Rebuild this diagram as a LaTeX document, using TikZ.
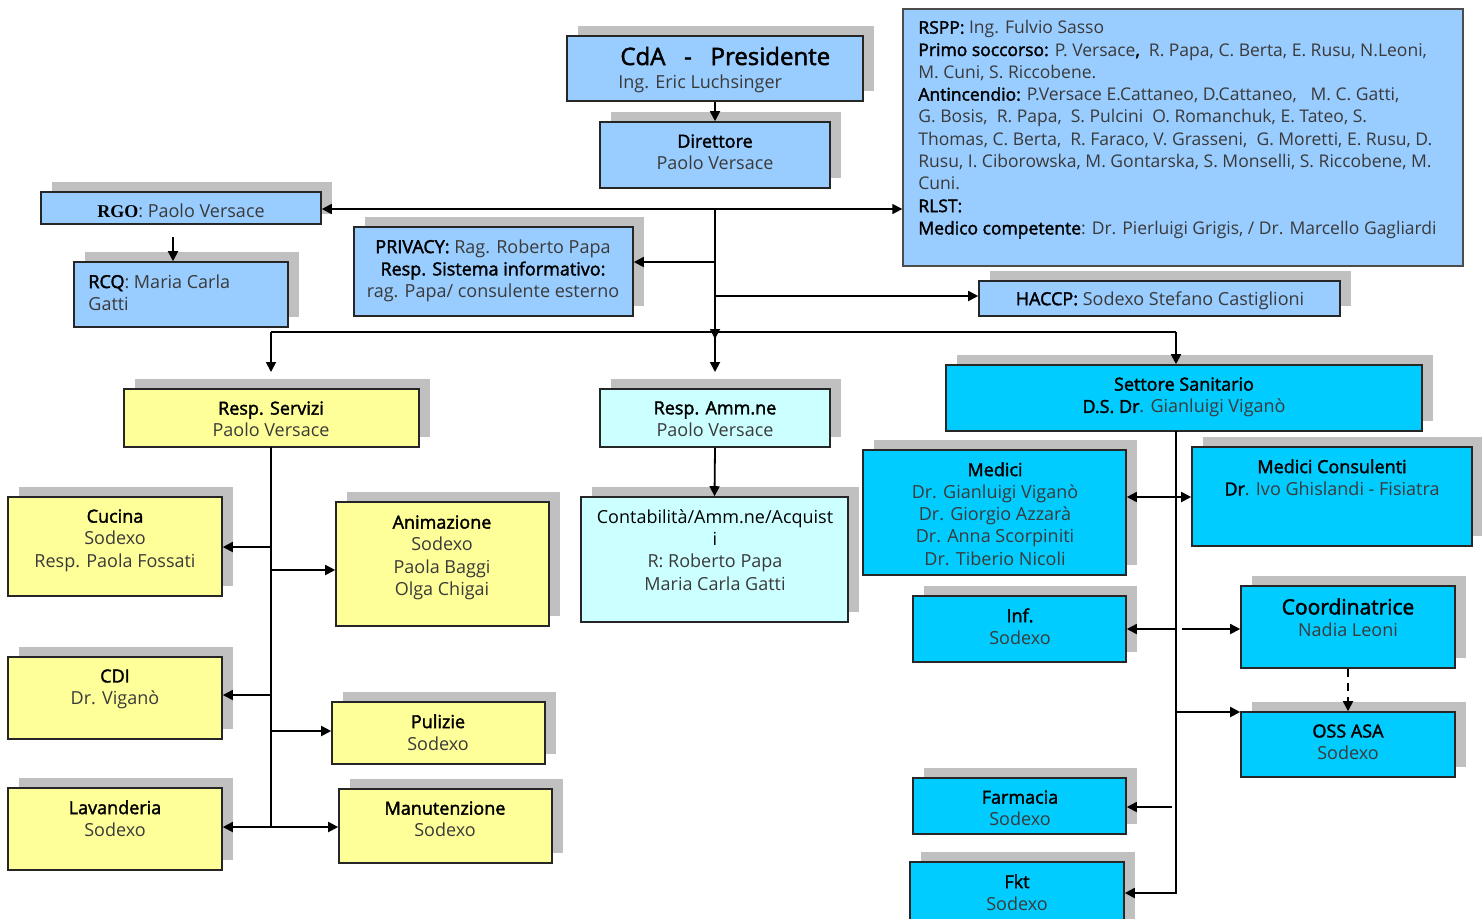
\documentclass[tikz,border=0pt]{standalone}
\usepackage{fontspec}
\setmainfont{Open Sans}
\newfontfamily\semi[FakeBold=2]{Open Sans}
\newfontfamily\tnr{Liberation Serif}
\usetikzlibrary{shadows,arrows.meta}
\definecolor{lblue}{HTML}{99CCFF}
\definecolor{cyanb}{HTML}{00CCFF}
\definecolor{yel}{HTML}{FFFF99}
\definecolor{lcyan}{HTML}{CCFFFF}
\definecolor{shadowgray}{HTML}{C0C0C0}
\definecolor{namegray}{HTML}{3A3A3A}
\newcommand\tl[1]{{\semi\color{black}#1}}
\tikzset{
  boxst/.style={draw=black!85, line width=0.8pt, inner sep=0pt,
    drop shadow={shadow xshift=5.5pt, shadow yshift=5pt, fill=shadowgray, opacity=1}},
  bigst/.style={draw=black!70, line width=0.7pt, inner sep=0pt},
  txt/.style={anchor=north, align=center, inner sep=0pt, text=namegray,
    font=\fontsize{9}{11.15}\selectfont},
  arr/.style={line width=0.9pt, -{Triangle[length=5pt,width=5pt]}},
  ln/.style={line width=0.9pt},
}
\newcommand\mkbox[6]{\node[boxst, fill=#6, minimum width={(#4-#2)*0.5pt}, minimum height={(#5-#3)*0.5pt}] (#1) at ({(#2+#4)/2},{(#3+#5)/2}) {};}
\begin{document}
\begin{tikzpicture}[x=0.5pt,y=-0.5pt]
\useasboundingbox (0,0) rectangle (1482,918);
\clip (0,0) rectangle (1482,918);
% boxes
\mkbox{cda}{567}{36}{863}{101}{lblue}
\mkbox{dir}{600}{122}{830}{188}{lblue}
\node[bigst, fill=lblue, minimum width={560*0.5pt}, minimum height={257*0.5pt}] (big) at (1183,137.5) {};
\mkbox{haccp}{979}{281}{1340}{316}{lblue}
\mkbox{rgo}{41}{192}{321}{224}{lblue}
\mkbox{rcq}{74}{262}{288}{327}{lblue}
\mkbox{priv}{354}{227}{633}{316}{lblue}
\mkbox{serv}{124}{389}{419}{447}{yel}
\mkbox{amm}{600}{389}{830}{447}{lcyan}
\mkbox{sett}{946}{365}{1422}{431}{cyanb}
\mkbox{cuc}{8}{497}{222}{596}{yel}
\mkbox{anim}{336}{502}{549}{626}{yel}
\mkbox{cdi}{8}{657}{222}{739}{yel}
\mkbox{pul}{332}{702}{545}{764}{yel}
\mkbox{lav}{8}{788}{222}{870}{yel}
\mkbox{man}{339}{789}{552}{863}{yel}
\mkbox{cont}{581}{497}{848}{622}{lcyan}
\mkbox{med}{863}{450}{1126}{575}{cyanb}
\mkbox{mc}{1192}{447}{1472}{546}{cyanb}
\mkbox{inf}{913}{596}{1126}{662}{cyanb}
\mkbox{coord}{1241}{586}{1455}{668}{cyanb}
\mkbox{oss}{1241}{712}{1455}{777}{cyanb}
\mkbox{farm}{913}{778}{1126}{834}{cyanb}
\mkbox{fkt}{910}{862}{1124}{935}{cyanb}
% texts
\node[anchor=base west, inner sep=0pt, font=\fontsize{12}{14}\selectfont] (cdaT1) at (620,65) {\semi CdA\ \ \ -\ \ \ Presidente};
\node[anchor=base west, inner sep=0pt, text=namegray, font=\fontsize{9}{11.15}\selectfont] (cdaT2) at (618,88) {Ing. Eric Luchsinger};
\node[txt] (dirT) at (715,134) {\tl{Direttore}\\Paolo Versace};
\node[txt, anchor=north west, align=left, font=\fontsize{8.75}{11.15}\selectfont] (bigT) at (918,20) {\tl{RSPP:} Ing. Fulvio Sasso\\
\tl{Primo soccorso:} P. Versace\tl{,}\ \ R. Papa, C. Berta, E. Rusu, N.Leoni,\\
M. Cuni, S. Riccobene.\\
\tl{Antincendio:} P.Versace E.Cattaneo, D.Cattaneo,\ \ \ M. C. Gatti,\\
G. Bosis,\ \ R. Papa,\ \ S. Pulcini\ \ O. Romanchuk, E. Tateo, S.\\
Thomas, C. Berta,\ \ R. Faraco, V. Grasseni,\ \ G. Moretti, E. Rusu, D.\\
Rusu, I. Ciborowska, M. Gontarska, S. Monselli, S. Riccobene, M.\\
Cuni.\\
\tl{RLST:}\\
\tl{Medico competente}: Dr. Pierluigi Grigis, / Dr. Marcello Gagliardi};
\node[txt] (rgoT) at (181,203) {{\tnr\bfseries\color{black}RGO}: Paolo Versace};
\node[txt, anchor=north west, align=left] (rcqT) at (88,274) {\tl{RCQ}: Maria Carla\\Gatti};
\node[txt] (privT) at (493,239) {\tl{PRIVACY:} Rag. Roberto Papa\\\tl{Resp. Sistema informativo:}\\rag. Papa/ consulente esterno};
\node[txt] (haccpT) at (1160,291) {\tl{HACCP:} Sodexo Stefano Castiglioni};
\node[txt] (servT) at (271,401) {\tl{Resp. Servizi}\\Paolo Versace};
\node[txt] (ammT) at (715,401) {\tl{Resp. Amm.ne}\\Paolo Versace};
\node[txt] (settT) at (1184,377) {\tl{Settore Sanitario}\\\tl{D.S. Dr}. Gianluigi Viganò};
\node[txt] (cucT) at (115,509) {\tl{Cucina}\\Sodexo\\Resp. Paola Fossati};
\node[txt] (animT) at (442,515) {\tl{Animazione}\\Sodexo\\Paola Baggi\\Olga Chigai};
\node[txt] (cdiT) at (115,669) {\tl{CDI}\\Dr. Viganò};
\node[txt] (pulT) at (438,714) {\tl{Pulizie}\\Sodexo};
\node[txt] (lavT) at (115,800) {\tl{Lavanderia}\\Sodexo};
\node[txt] (manT) at (445,801) {\tl{Manutenzione}\\Sodexo};
\node[txt] (contT) at (715,509) {{\color{black}Contabilità/Amm.ne/Acquist}\\{\color{black}i}\\R: Roberto Papa\\Maria Carla Gatti};
\node[txt] (medT) at (995,462) {\tl{Medici}\\Dr. Gianluigi Viganò\\Dr. Giorgio Azzarà\\Dr. Anna Scorpiniti\\Dr. Tiberio Nicoli};
\node[txt] (mcT) at (1332,459) {\tl{Medici Consulenti}\\\tl{Dr}. Ivo Ghislandi - Fisiatra};
\node[txt] (infT) at (1020,608) {\tl{Inf.}\\Sodexo};
\node[txt] (coordT) at (1348,598) {{\fontsize{10.5}{11.15}\selectfont\tl{Coordinatrice}}\\Nadia Leoni};
\node[txt] (ossT) at (1348,724) {\tl{OSS ASA}\\Sodexo};
\node[txt] (farmT) at (1020,790) {\tl{Farmacia}\\Sodexo};
\node[txt] (fktT) at (1017,874) {\tl{Fkt}\\Sodexo};
% connectors top
\draw[arr] (cda.south) -- (dir.north);
\coordinate (jTop) at (715,209);
\draw[arr] (jTop) -- (rgo.east |- jTop);
\draw[arr] (jTop) -- (big.west |- jTop);
\coordinate (jPriv) at (715,262);
\draw[arr] (jPriv) -- (priv.east |- jPriv);
\coordinate (jHac) at (715,296);
\draw[arr] (jHac) -- (haccp.west |- jHac);
\coordinate (jBarTip) at (715,339);
\draw[arr] (jTop) -- (jBarTip);
\coordinate (jBar) at (715,332);
\coordinate (ammTip) at (715,372);
\draw[arr] (jBar) -- (ammTip);
\coordinate (barL) at (271,332);
\coordinate (barR) at (1176,332);
\draw[ln] (barL) -- (barR);
\coordinate (servTip) at (271,372);
\draw[arr] (barL) -- (servTip);
\draw[arr] (barR) -- (sett.north -| barR);
\coordinate (rgoFrom) at (173,237);
\draw[arr] (rgoFrom) -- (rcq.north -| rgoFrom);
% services
\coordinate (sTop) at (271,447);
\coordinate (sBot) at (271,827);
\draw[ln] (sTop) -- (sBot);
\coordinate (s1) at (271,547);
\draw[arr] (s1) -- (cuc.east |- s1);
\coordinate (s2) at (271,570);
\draw[arr] (s2) -- (anim.west |- s2);
\coordinate (s3) at (271,695);
\draw[arr] (s3) -- (cdi.east |- s3);
\coordinate (s4) at (271,731);
\draw[arr] (s4) -- (pul.west |- s4);
\draw[arr] (sBot) -- (lav.east |- sBot);
\draw[arr] (sBot) -- (man.west |- sBot);
% administration
\draw[arr] (amm.south) -- (cont.north);
% health
\coordinate (hTop) at (1176,431);
\coordinate (hBot) at (1176,893);
\draw[arr] (hTop) -- (hBot) -- (fkt.east |- hBot);
\coordinate (h1) at (1176,497);
\draw[arr] (h1) -- (med.east |- h1);
\draw[arr] (h1) -- (mc.west |- h1);
\coordinate (h2) at (1176,629);
\draw[arr] (h2) -- (inf.east |- h2);
\coordinate (h2b) at (1182,629);
\draw[arr] (h2b) -- (coord.west |- h2b);
\coordinate (h3) at (1176,712);
\draw[arr] (h3) -- (oss.west |- h3);
\coordinate (h4) at (1172,807);
\draw[arr] (h4) -- (farm.east |- h4);
\draw[arr, dash pattern=on 4pt off 3pt] (coord.south) -- (oss.north);
\end{tikzpicture}
\end{document}
